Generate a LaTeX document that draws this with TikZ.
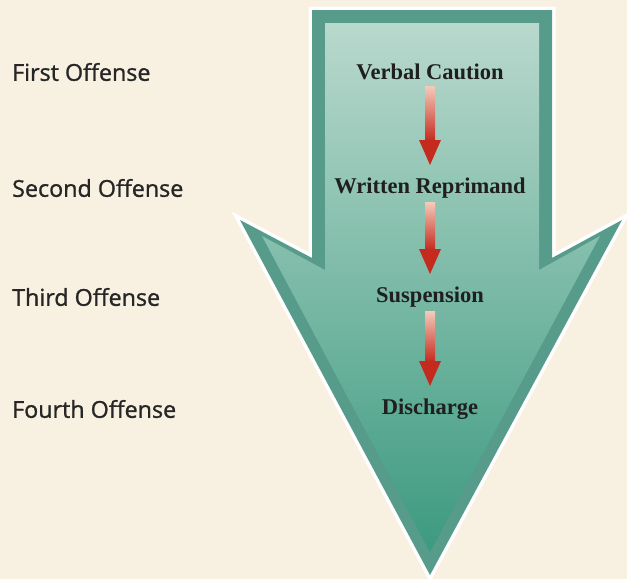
\documentclass[tikz,border=0pt]{standalone}
\usepackage{fontspec}
\usetikzlibrary{calc}
\setmainfont{Liberation Serif}
\newfontfamily\labfont[FakeBold=1.1]{Open Sans}
\definecolor{bgcream}{HTML}{F8F1E1}
\definecolor{tealedge}{HTML}{579B8A}
\definecolor{teallight}{HTML}{B9D9CD}
\definecolor{tealdark}{HTML}{3C9A7F}
\definecolor{redlight}{HTML}{F4CBBB}
\definecolor{reddark}{HTML}{C42A1E}
\definecolor{labgray}{HTML}{262626}
\tikzset{
  stage/.style={font=\fontsize{22.5}{26}\selectfont\bfseries, text=black!88, inner sep=0pt},
  offense/.style={font=\labfont\fontsize{23.3}{27}\selectfont, text=labgray, inner sep=0pt, anchor=west},
}
\newcommand{\redarr}[2]{%
  \shade[top color=redlight, bottom color=reddark]
    ($(#1.center)+(-5,14)$) rectangle ($(#2.center)+(5,-47)$);
  \fill[reddark] ($(#2.center)+(-11,-48)$) -- ($(#2.center)+(11,-48)$) -- ($(#2.center)+(0,-23)$) -- cycle;
}
\begin{document}
\begin{tikzpicture}[x=1pt,y=-1pt]
\useasboundingbox (0,0) rectangle (627,579);
\fill[bgcream] (0,0) rectangle (627,579);
% big arrow: white glow
\draw[white, line width=7pt, line join=miter]
  (312,10) -- (552,10) -- (552,258) -- (622,220) -- (430,575) -- (240,220) -- (312,258) -- cycle;
\fill[tealedge]
  (312,10) -- (552,10) -- (552,258) -- (622,220) -- (430,575) -- (240,220) -- (312,258) -- cycle;
\shade[top color=teallight, bottom color=tealdark]
  (325,23) -- (539,23) -- (539,270) -- (600,236) -- (430,552) -- (262,236) -- (325,270) -- cycle;
% stage labels
\node[stage] (vc) at (430,72) {Verbal Caution};
\node[stage] (wr) at (430,188) {Written Reprimand};
\node[stage] (su) at (430,297) {Suspension};
\node[stage] (di) at (430,409) {Discharge};
% offense labels
\node[offense] (o1) at (12,72) {First Offense};
\node[offense] (o2) at (12,188) {Second Offense};
\node[offense] (o3) at (12,297) {Third Offense};
\node[offense] (o4) at (12,409) {Fourth Offense};
% red arrows
\redarr{vc}{wr}
\redarr{wr}{su}
\redarr{su}{di}
\end{tikzpicture}
\end{document}
